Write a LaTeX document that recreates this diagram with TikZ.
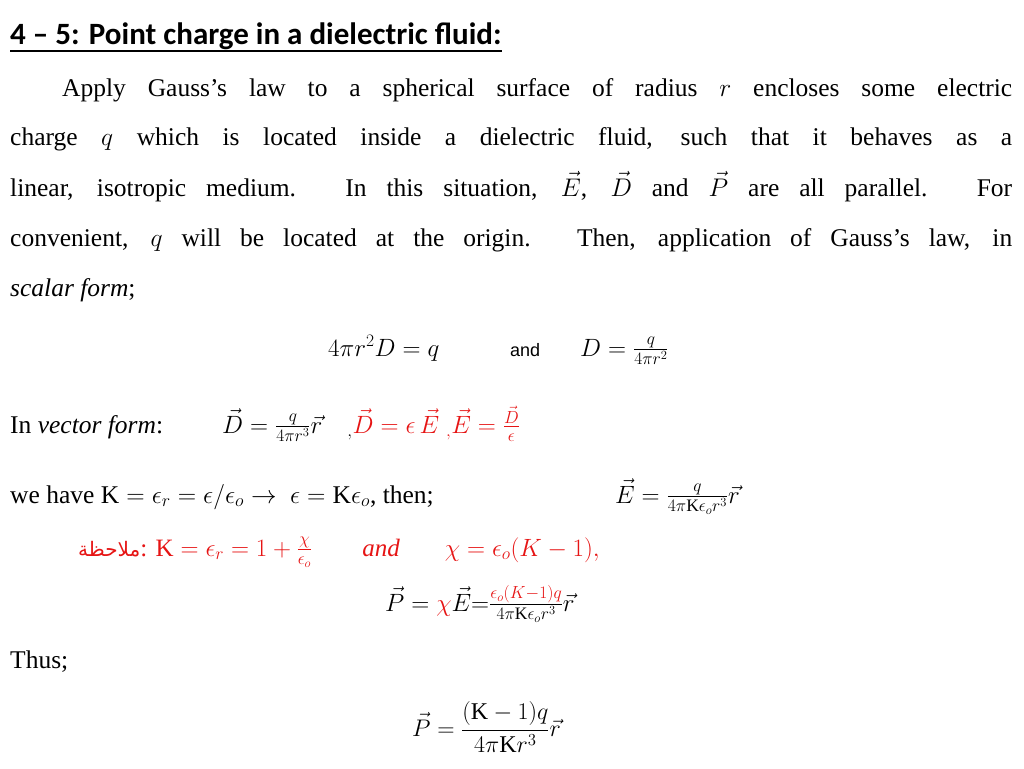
\RequirePackage{fix-cm}
\documentclass[tikz,border=0pt]{standalone}
\usepackage{amsmath}
\usepackage{fontspec}
\setmainfont{Liberation Serif}
\newfontfamily\headfont{Carlito}
\newfontfamily\andfont{Liberation Sans}
\TeXXeTstate=1
\newfontfamily\arabicfont[Script=Arabic]{DejaVu Sans}
\definecolor{hred}{RGB}{230,20,20}
\begin{document}
\begin{tikzpicture}[x=1pt,y=-1pt,
  txt/.style={anchor=base west,inner sep=0pt,font=\fontsize{25.5}{30}\selectfont},
  eq/.style={anchor=base west,inner sep=0pt,font=\fontsize{25}{30}\selectfont}]
\useasboundingbox (0,0) rectangle (1024,768);
\node[anchor=base west,inner sep=0pt,font=\headfont\bfseries\fontsize{31}{36}\selectfont] (title) at (10,45) {4 \textendash\ 5: Point charge in a dielectric fluid:};
\draw[line width=1.3pt] ([yshift=-6pt]title.base west) -- ([yshift=-6pt]title.base east);
\node[txt] (l1) at (62,96) {\makebox[950pt][s]{Apply Gauss's law to a spherical surface of radius $r$ encloses some electric}};
\node[txt] (l2) at (10,145) {\makebox[1002pt][s]{charge $q$ which is located inside a dielectric fluid, such that it behaves as a}};
\node[txt] (l3) at (10,196) {\makebox[1002pt][s]{linear, isotropic medium. In this situation, $\vec{E}$, $\vec{D}$ and $\vec{P}$ are all parallel. For}};
\node[txt] (l4) at (10,246) {\makebox[1002pt][s]{convenient, $q$ will be located at the origin. Then, application of Gauss's law, in}};
\node[txt] (l5) at (10,296) {\textit{scalar form};};
\node[eq] (e1) at (328,356) {$4\pi r^2 D = q$};
\node[anchor=base west,inner sep=0pt,font=\andfont\fontsize{18}{20}\selectfont] (and1) at (510,356) {and};
\node[eq] (e2) at (580,356) {$D=\frac{q}{4\pi r^2}$};
\node[txt] (vf) at (10,433) {In \textit{vector form}:};
\node[eq] (e3) at (222,433) {$\vec{D}=\frac{q}{4\pi r^3}\vec{r}\quad{}_{,}\color{hred}\vec{D}=\epsilon\,\vec{E}\;{}_{,}\vec{E}=\frac{\vec{D}}{\epsilon}$};
\node[txt] (wh) at (10,503) {we have $\mathrm{K}=\epsilon_r=\epsilon/\epsilon_o\rightarrow\ \epsilon=\mathrm{K}\epsilon_o$, then;};
\node[eq] (e4) at (615,503) {$\vec{E}=\frac{q}{4\pi\mathrm{K}\epsilon_o r^3}\vec{r}$};
\node[anchor=base west,inner sep=0pt,text=hred,font=\fontsize{25}{30}\selectfont] (note) at (78,556) {{\arabicfont\fontsize{20}{24}\selectfont\beginR ملاحظة\endR}: $\mathrm{K}=\epsilon_r=1+\frac{\chi}{\epsilon_o}$\hspace{50pt}$\mathit{and}$\hspace{45pt}$\chi=\epsilon_o(K-1),$};
\node[eq] (e5) at (385,611) {$\vec{P}={\color{hred}\chi}\vec{E}{=}\frac{{\color{hred}\epsilon_o(K-1)q}}{4\pi\mathrm{K}\epsilon_o r^3}\vec{r}$};
\node[txt] (thus) at (10,668) {Thus;};
\node[eq,font=\fontsize{24}{28}\selectfont] (e6) at (412,736) {$\vec{P}=\dfrac{(\mathrm{K}-1)q}{4\pi\mathrm{K}r^3}\vec{r}$};
\end{tikzpicture}
\end{document}
